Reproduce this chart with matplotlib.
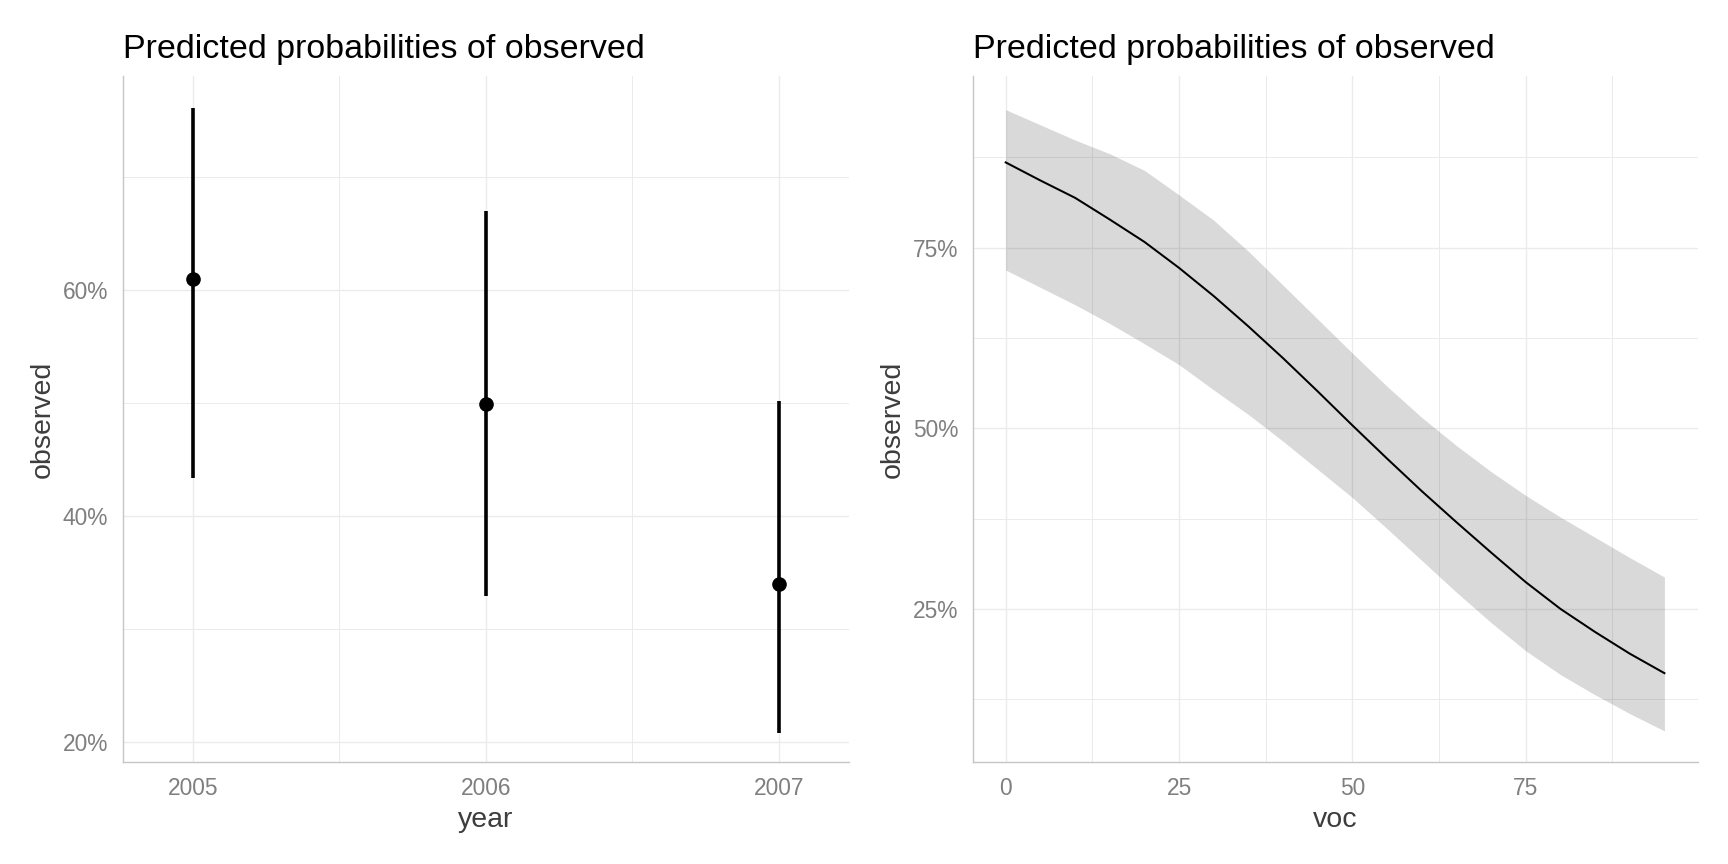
import matplotlib
matplotlib.use("Agg")
import matplotlib.pyplot as plt

plt.rcParams['font.family'] = ['Liberation Sans', 'DejaVu Sans']

# left panel: predicted probability by year
years = [2005, 2006, 2007]
year_pred = [0.610, 0.499, 0.340]
year_low = [0.434, 0.329, 0.208]
year_high = [0.761, 0.670, 0.502]

# right panel: predicted probability by voc
voc = [0, 5, 10, 15, 20, 25, 30, 35, 40, 45, 50, 55, 60, 65, 70, 75, 80, 85, 90, 95]
voc_pred = [0.868, 0.843, 0.819, 0.789, 0.758, 0.722, 0.683, 0.641, 0.597, 0.551,
            0.504, 0.458, 0.413, 0.370, 0.328, 0.287, 0.250, 0.218, 0.188, 0.161]
voc_low = [0.719, 0.695, 0.671, 0.645, 0.617, 0.588, 0.553, 0.519, 0.482, 0.443,
           0.404, 0.361, 0.317, 0.273, 0.231, 0.192, 0.159, 0.131, 0.105, 0.081]
voc_high = [0.941, 0.920, 0.899, 0.880, 0.857, 0.823, 0.788, 0.745, 0.698, 0.651,
            0.604, 0.558, 0.515, 0.476, 0.440, 0.407, 0.377, 0.349, 0.321, 0.294]

grid_col = "#EBEBEB"
tick_col = "#7F7F7F"
lab_col = "#3D3D3D"

fig = plt.figure(figsize=(17.28, 8.64), dpi=100)
ax1 = fig.add_axes([122.7 / 1728, 101.7 / 864, 726.3 / 1728, 686.3 / 864])
ax2 = fig.add_axes([972.7 / 1728, 101.7 / 864, 725.0 / 1728, 686.3 / 864])


def style(ax):
    for s in ["top", "right"]:
        ax.spines[s].set_visible(False)
    for s in ["left", "bottom"]:
        ax.spines[s].set_color("#C6C6C6")
        ax.spines[s].set_linewidth(1.0)
    ax.tick_params(which="both", length=0)
    ax.tick_params(labelsize=16.4, labelcolor=tick_col, pad=10.5)
    ax.grid(True, which="major", color=grid_col, linewidth=1.0)
    ax.grid(True, which="minor", color=grid_col, linewidth=0.7)
    ax.set_axisbelow(True)
    ax.set_title("Predicted probabilities of observed", loc="left", fontsize=24.5,
                 color="black", pad=13)
    ax.set_ylabel("observed", fontsize=20.5, color=lab_col, labelpad=5)


# left panel
ax1.vlines(years, year_low, year_high, color="black", linewidth=2.6, zorder=3)
ax1.plot(years, year_pred, "o", color="black", markersize=9.5, zorder=4)
ax1.set_xlim(2004.761, 2007.239)
ax1.set_ylim(0.182, 0.7894)
ax1.set_xticks(years)
ax1.set_xticklabels([str(y) for y in years])
ax1.set_xticks([2005.5, 2006.5], minor=True)
ax1.set_yticks([0.2, 0.4, 0.6])
ax1.set_yticklabels(["20%", "40%", "60%"])
ax1.set_yticks([0.3, 0.5, 0.7], minor=True)
style(ax1)
ax1.set_xlabel("year", fontsize=20.5, color=lab_col, labelpad=5)

# right panel
ax2.fill_between(voc, voc_low, voc_high, color="black", alpha=0.15, linewidth=0, zorder=2)
ax2.plot(voc, voc_pred, color="black", linewidth=1.45, zorder=3)
ax2.set_xlim(-4.76, 99.8)
ax2.set_ylim(0.0376, 0.9876)
ax2.set_xticks([0, 25, 50, 75])
ax2.set_xticklabels(["0", "25", "50", "75"])
ax2.set_xticks([12.5, 37.5, 62.5, 87.5], minor=True)
ax2.set_yticks([0.25, 0.5, 0.75])
ax2.set_yticklabels(["25%", "50%", "75%"])
ax2.set_yticks([0.125, 0.375, 0.625, 0.875], minor=True)
style(ax2)
ax2.set_xlabel("voc", fontsize=20.5, color=lab_col, labelpad=5)

fig.savefig("out.png", dpi=100)
